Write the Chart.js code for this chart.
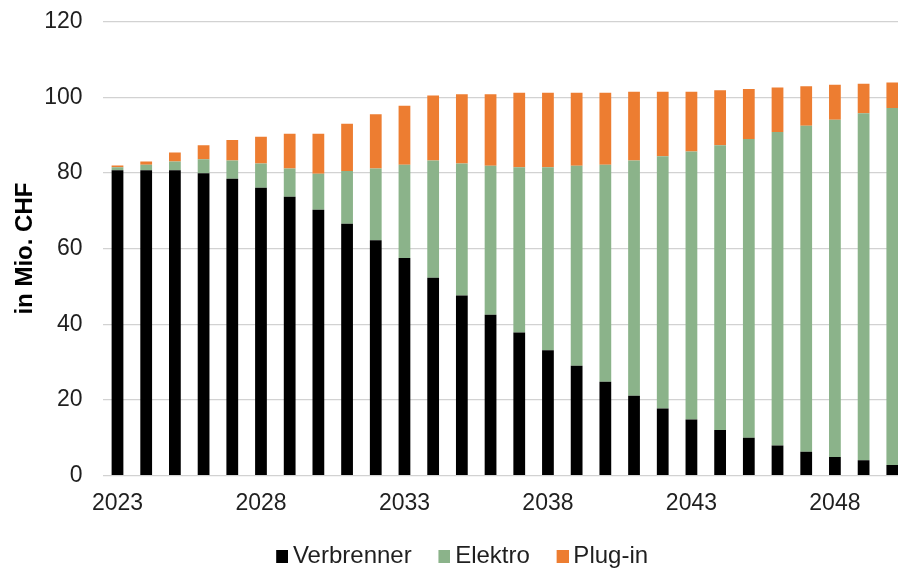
<!DOCTYPE html>
<html>
<head>
<meta charset="utf-8">
<script src="https://cdn.jsdelivr.net/npm/chart.js@4/dist/chart.umd.min.js"></script>
<style>
  html, body { margin: 0; padding: 0; background: #fff; width: 898px; height: 572px; overflow: hidden; }
  #wrap { position: absolute; left: 0; top: 0; width: 907px; height: 572px; }
</style>
</head>
<body>
<div id="wrap"><canvas id="chart" width="907" height="572"></canvas></div>
<script>
// Jahre (Kategorien)
const years = ['2023','2024','2025','2026','2027','2028','2029','2030','2031','2032',
               '2033','2034','2035','2036','2037','2038','2039','2040','2041','2042',
               '2043','2044','2045','2046','2047','2048','2049','2050'];
// beschriftete Jahre auf der x-Achse
const shownYears = ['2023','2028','2033','2038','2043','2048'];
// y-Achsen-Ticks
const yTickValues = [0, 20, 40, 60, 80, 100, 120];

// Werte in Mio. CHF
const verbrenner = [80.7, 80.7, 80.7, 79.9, 78.5, 76.1, 73.7, 70.3, 66.6, 62.2,
                    57.5, 52.3, 47.6, 42.5, 37.8, 33.1, 29.0, 24.8, 21.1, 17.7,
                    14.8, 12.0, 10.0, 7.9, 6.3, 4.9, 4.0, 2.8];
const elektro    = [0.8, 1.5, 2.3, 3.7, 4.8, 6.4, 7.5, 9.5, 13.9, 19.0,
                    24.7, 31.0, 34.9, 39.4, 43.7, 48.4, 52.9, 57.4, 62.2, 66.7,
                    70.9, 75.3, 79.0, 82.9, 86.2, 89.2, 91.8, 94.4];
const plugin     = [0.5, 0.8, 2.4, 3.7, 5.4, 7.1, 9.2, 10.6, 12.5, 14.3,
                    15.6, 17.2, 18.3, 18.9, 19.7, 19.7, 19.3, 19.0, 18.2, 17.1,
                    15.8, 14.6, 13.2, 11.8, 10.4, 9.2, 7.8, 6.7];

const seriesNames  = ['Verbrenner', 'Elektro', 'Plug-in'];
const seriesColors = ['#000000', '#8bb38a', '#ed7d31'];

const FONT = '"Liberation Sans", Arial, sans-serif';
const TEXT = '#1f1f1f';

// Legendensymbol: kleines Quadrat am rechten Rand eines transparenten Feldes
function legendSwatch(color) {
  const c = document.createElement('canvas');
  c.width = 41; c.height = 13;
  const g = c.getContext('2d');
  g.fillStyle = color;
  g.fillRect(29, 0, 12, 13);
  return c;
}
const swatches = seriesColors.map(legendSwatch);

const datasets = [verbrenner, elektro, plugin].map((values, i) => ({
  label: seriesNames[i],
  data: values,
  backgroundColor: seriesColors[i],
  borderWidth: 0,
  categoryPercentage: 1.0,
  barPercentage: 0.41
}));

new Chart(document.getElementById('chart'), {
  type: 'bar',
  data: { labels: years, datasets },
  options: {
    responsive: false,
    animation: false,
    devicePixelRatio: 1,
    layout: { padding: { top: 21.7, left: -4.5, right: 0, bottom: -6.5 } },
    plugins: {
      tooltip: { enabled: false },
      legend: {
        position: 'bottom',
        labels: {
          usePointStyle: true,
          pointStyleWidth: 26.5,
          padding: 5,
          color: TEXT,
          font: { family: FONT, size: 24 },
          generateLabels(chart) {
            const items = Chart.defaults.plugins.legend.labels.generateLabels(chart);
            items.forEach(it => { it.pointStyle = swatches[it.datasetIndex]; });
            return items;
          }
        }
      }
    },
    scales: {
      x: {
        stacked: true,
        grid: { display: false, drawTicks: false },
        border: { display: false },
        ticks: {
          autoSkip: false,
          maxRotation: 0,
          padding: 14.7,
          color: TEXT,
          font: { family: FONT, size: 23 },
          callback(value) {
            const lbl = this.getLabelForValue(value);
            return shownYears.includes(lbl) ? lbl : '';
          }
        },
        afterFit(scale) { scale.height = 64; }
      },
      y: {
        stacked: true,
        min: 0,
        max: 120,
        afterBuildTicks(scale) { scale.ticks = yTickValues.map(v => ({ value: v })); },
        afterFit(scale) {
          scale.width = 107.65;
          scale.paddingTop = 0;
          scale.paddingBottom = 0;
        },
        grid: { color: '#d2d2d2', lineWidth: 1.2, drawTicks: false },
        border: { display: false },
        ticks: {
          padding: 20.5,
          color: TEXT,
          font: { family: FONT, size: 23 }
        },
        title: {
          display: true,
          text: 'in Mio. CHF',
          color: '#000000',
          font: { family: FONT, size: 24, weight: 'bold' },
          padding: { top: 15.6, bottom: 0 }
        }
      }
    }
  }
});
</script>
</body>
</html>
